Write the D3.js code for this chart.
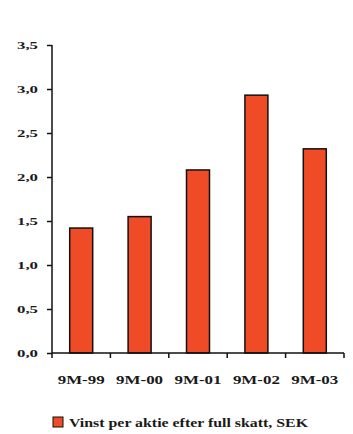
<!DOCTYPE html>
<html>
<head>
<meta charset="utf-8">
<script src="https://cdn.jsdelivr.net/npm/d3@7"></script>
<style>
  html, body { margin: 0; padding: 0; background: #fff; }
  svg { display: block; }
  text { font-family: "Liberation Serif", "DejaVu Serif", serif; font-weight: bold; fill: #1a1a1a; }
</style>
</head>
<body>
<svg id="chart" width="353" height="434"></svg>
<script>
// Earnings per share after full tax, first nine months of each year (SEK)
const categories = ["9M-99", "9M-00", "9M-01", "9M-02", "9M-03"];
const values = [1.42, 1.55, 2.08, 2.93, 2.32];
const yTicks = [0, 0.5, 1.0, 1.5, 2.0, 2.5, 3.0, 3.5];
const legendLabel = "Vinst per aktie efter full skatt, SEK";

const svg = d3.select("#chart");
const plotLeft = 52, plotRight = 344, plotTop = 45, plotBottom = 353;
const barColor = "#ee4b26";

const x = d3.scaleBand().domain(categories).range([plotLeft, plotRight]).padding(0);
const y = d3.scaleLinear().domain([0, 3.5]).range([plotBottom, plotTop]);
const fmt = v => d3.format(".1f")(v).replace(".", ",");

// Bars
const barW = 23;
svg.append("g").selectAll("rect")
  .data(values)
  .join("rect")
  .attr("x", (d, i) => x(categories[i]) + x.bandwidth() / 2 - barW / 2)
  .attr("y", d => y(d))
  .attr("width", barW)
  .attr("height", d => y(0) - y(d))
  .attr("fill", barColor)
  .attr("stroke", "#111")
  .attr("stroke-width", 1.5);

// Y axis
const yAxis = svg.append("g")
  .attr("transform", `translate(${plotLeft},0)`)
  .call(d3.axisLeft(y).tickValues(yTicks).tickFormat(fmt).tickSize(5).tickPadding(9));
yAxis.select(".domain").attr("d", `M0,${plotTop}V${plotBottom}`).attr("stroke", "#111").attr("stroke-width", 1.5);
yAxis.selectAll(".tick line").attr("stroke", "#111").attr("stroke-width", 1.5);
yAxis.selectAll(".tick text")
  .attr("font-size", 11)
  .attr("textLength", 21)
  .attr("lengthAdjust", "spacingAndGlyphs")
  .style("font-family", "'Liberation Serif', serif")
  .style("font-weight", "bold")
  .attr("fill", "#1a1a1a");

// X axis: tick marks sit on the category boundaries
const xAxis = svg.append("g").attr("transform", `translate(0,${plotBottom})`);
xAxis.append("line")
  .attr("x1", plotLeft).attr("x2", plotRight)
  .attr("stroke", "#111").attr("stroke-width", 1.5);
const bounds = categories.map(c => x(c)).concat([x.range()[1]]);
xAxis.selectAll("line.tk")
  .data(bounds)
  .join("line")
  .attr("class", "tk")
  .attr("x1", d => d).attr("x2", d => d)
  .attr("y1", 0).attr("y2", 5)
  .attr("stroke", "#111").attr("stroke-width", 1.5);
xAxis.selectAll("text")
  .data(categories)
  .join("text")
  .attr("x", d => x(d) + x.bandwidth() / 2)
  .attr("y", 31)
  .attr("text-anchor", "middle")
  .attr("font-size", 13)
  .attr("textLength", 47)
  .attr("lengthAdjust", "spacingAndGlyphs")
  .text(d => d);

// Legend
const lg = svg.append("g").attr("transform", "translate(53,417)");
lg.append("rect")
  .attr("width", 10).attr("height", 10)
  .attr("fill", barColor).attr("stroke", "#111").attr("stroke-width", 1);
lg.append("text")
  .attr("x", 16).attr("y", 9.5)
  .attr("font-size", 12)
  .attr("textLength", 239)
  .attr("lengthAdjust", "spacingAndGlyphs")
  .text(legendLabel);
</script>
</body>
</html>
